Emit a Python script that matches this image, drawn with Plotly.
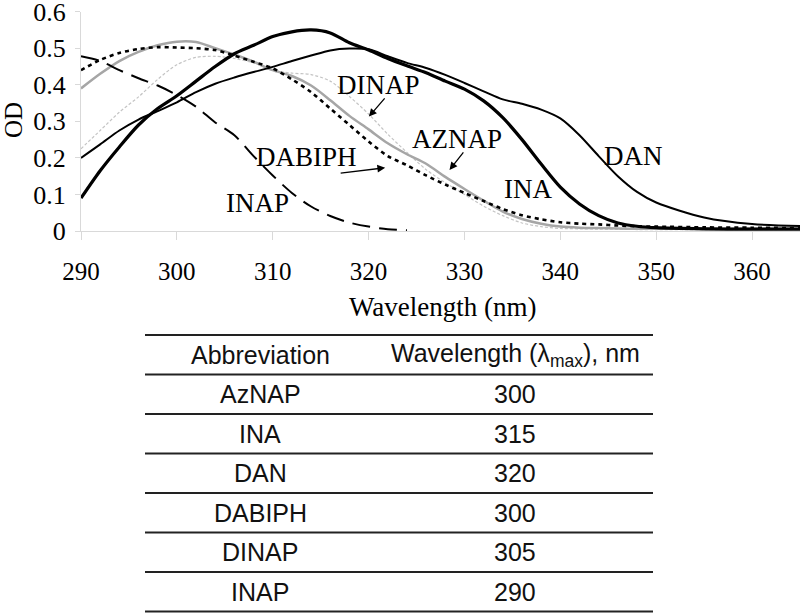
import plotly.graph_objects as go

# ---------------- data ----------------
wavelength = [290, 292, 294, 296, 298, 300, 302, 304, 306, 308, 310, 312, 314, 316, 318, 320,
              322, 324, 326, 328, 330, 332, 334, 336, 338, 340, 342, 344, 346, 348, 350, 355, 360, 365]

ina = [0.09, 0.165, 0.23, 0.29, 0.335, 0.37, 0.41, 0.45, 0.485, 0.508, 0.532, 0.545, 0.55, 0.542, 0.515, 0.495,
       0.472, 0.452, 0.433, 0.41, 0.388, 0.356, 0.31, 0.25, 0.183, 0.12, 0.074, 0.042, 0.022, 0.013, 0.009, 0.006, 0.005, 0.005]

dan = [0.2, 0.237, 0.275, 0.305, 0.328, 0.352, 0.38, 0.403, 0.42, 0.435, 0.449, 0.465, 0.48, 0.494, 0.499, 0.497,
       0.478, 0.46, 0.446, 0.427, 0.405, 0.382, 0.36, 0.348, 0.332, 0.308, 0.262, 0.205, 0.15, 0.107, 0.078, 0.037, 0.019, 0.014]

aznap = [0.39, 0.43, 0.465, 0.49, 0.508, 0.518, 0.517, 0.5, 0.483, 0.463, 0.44, 0.424, 0.398, 0.358, 0.315, 0.278,
         0.24, 0.21, 0.184, 0.148, 0.115, 0.083, 0.053, 0.033, 0.02, 0.012, 0.009, 0.008, 0.007, 0.006, 0.006, 0.006, 0.006, 0.006]

dabiph = [0.44, 0.468, 0.487, 0.498, 0.503, 0.502, 0.5, 0.495, 0.48, 0.463, 0.445, 0.415, 0.38, 0.335, 0.29, 0.245,
          0.205, 0.18, 0.152, 0.127, 0.104, 0.082, 0.06, 0.043, 0.032, 0.024, 0.02, 0.018, 0.015, 0.013, 0.012, 0.01, 0.009, 0.008]

dinap = [0.225, 0.275, 0.325, 0.367, 0.415, 0.455, 0.475, 0.478, 0.472, 0.46, 0.44, 0.432, 0.428, 0.41, 0.368, 0.32,
         0.265, 0.215, 0.168, 0.132, 0.1, 0.068, 0.042, 0.022, 0.012, 0.007, 0.006, 0.005, 0.005, 0.004, 0.004, 0.004, 0.004, 0.004]

inap_wavelength = [290, 292, 294, 296, 298, 300, 302, 304, 306, 308, 310, 312, 314, 316, 318, 320, 322, 324]
inap = [0.478, 0.465, 0.44, 0.418, 0.398, 0.372, 0.34, 0.297, 0.262, 0.205, 0.152, 0.104, 0.067, 0.041, 0.023, 0.012, 0.005, 0.002]

# axis ticks
x_ticks = [290, 300, 310, 320, 330, 340, 350, 360]
y_ticks = [0, 0.1, 0.2, 0.3, 0.4, 0.5, 0.6]
y_ticktext = ["0", "0.1", "0.2", "0.3", "0.4", "0.5", "0.6"]

# curve labels: (text, x, y) and arrows: (head x, head y, tail x, tail y)
labels = [("DINAP", 321.0, 0.40), ("AZNAP", 329.25, 0.252), ("DABIPH", 313.5, 0.2025),
          ("INAP", 308.4, 0.077), ("INA", 336.6, 0.115), ("DAN", 347.6, 0.205)]
arrows = [(320.03, 0.313, 321.81, 0.367), (328.44, 0.167, 330.01, 0.219), (321.73, 0.173, 316.93, 0.158)]

# table
table_abbrev = ["AzNAP", "INA", "DAN", "DABIPH", "DINAP", "INAP"]
table_lmax = ["300", "315", "320", "300", "305", "290"]
table_header = ["Abbreviation", "Wavelength (λ<sub>max</sub>), nm"]

# ---------------- figure ----------------
W, H = 804, 615
serif = "Liberation Serif"
sans = "Liberation Sans"

fig = go.Figure()

series = [
    (wavelength, dinap, dict(color="#c4c4c4", width=1.2, dash="3px,2px")),
    (wavelength, aznap, dict(color="#a6a6a6", width=2.5)),
    (wavelength, dabiph, dict(color="black", width=2.6, dash="4px,4px")),
    (inap_wavelength, inap, dict(color="black", width=2, dash="18px,9px")),
    (wavelength, dan, dict(color="black", width=2)),
    (wavelength, ina, dict(color="black", width=3.2)),
]
for xs, ys, ln in series:
    fig.add_trace(go.Scatter(x=xs, y=ys, mode="lines", line=dict(shape="spline", smoothing=0.8, **ln),
                             hoverinfo="skip"))

px = lambda v: v / W
py = lambda v: 1 - v / H

axis_common = dict(showline=True, linecolor="#d9d9d9", linewidth=1, ticks="outside",
                   tickcolor="#d9d9d9", showgrid=False, zeroline=False, automargin=False,
                   ticklabeloverflow="allow")

fig.update_layout(
    width=W, height=H, margin=dict(l=0, r=0, t=0, b=0, pad=0, autoexpand=False),
    paper_bgcolor="white", plot_bgcolor="white", showlegend=False,
    xaxis=dict(domain=[px(81), px(800)], range=[290, 365], tickvals=x_ticks, ticklen=8,
               ticklabelstandoff=10, tickfont=dict(family=serif, size=25, color="black"), **axis_common),
    yaxis=dict(domain=[py(231), py(11.7)], range=[0, 0.6], tickvals=y_ticks, ticktext=y_ticktext,
               ticklen=5, ticklabelstandoff=4, tickfont=dict(family=serif, size=26, color="black"),
               **axis_common),
)

ann = []
ann.append(dict(text="Wavelength (nm)", x=px(443), y=py(307), xref="paper", yref="paper",
                xanchor="center", yanchor="middle",
                showarrow=False, font=dict(family=serif, size=27, color="black")))
ann.append(dict(text="OD", x=px(14), y=py(120), xref="paper", yref="paper", textangle=-90,
                xanchor="center", yanchor="middle",
                showarrow=False, font=dict(family=serif, size=25, color="black")))
for t, x, y in labels:
    ann.append(dict(text=t, x=x, y=y, xref="x", yref="y", showarrow=False,
                    xanchor="center", yanchor="middle",
                    font=dict(family=serif, size=27, color="black")))
for hx, hy, tx, ty in arrows:
    ann.append(dict(text="", x=hx, y=hy, ax=tx, ay=ty, xref="x", yref="y", axref="x", ayref="y",
                    showarrow=True, arrowhead=2, arrowsize=1.2, arrowwidth=1.3, arrowcolor="black"))

# table
top = 335.0
row_h = 39.5
x_left, x_right = 145, 653
col1_x, col2_x = 260, 515
shapes = []
n_rows = len(table_abbrev) + 1
for i in range(n_rows + 1):
    yy = top + i * row_h
    shapes.append(dict(type="line", xref="paper", yref="paper", x0=px(x_left), x1=px(x_right),
                       y0=py(yy), y1=py(yy), line=dict(color="#222222", width=2)))
rows = [table_header] + [[a, b] for a, b in zip(table_abbrev, table_lmax)]
for i, (a, b) in enumerate(rows):
    yc = top + (i + 0.5) * row_h
    for txt, xc in ((a, col1_x), (b, col2_x)):
        ann.append(dict(text=txt, x=px(xc), y=py(yc), xref="paper", yref="paper", showarrow=False,
                        xanchor="center", yanchor="middle",
                        font=dict(family=sans, size=25, color="#111111")))

fig.update_layout(annotations=ann, shapes=shapes)
fig.write_html("out.html", config={"displayModeBar": False},
               post_script="document.body.style.margin='0';document.body.style.overflow='hidden';")
